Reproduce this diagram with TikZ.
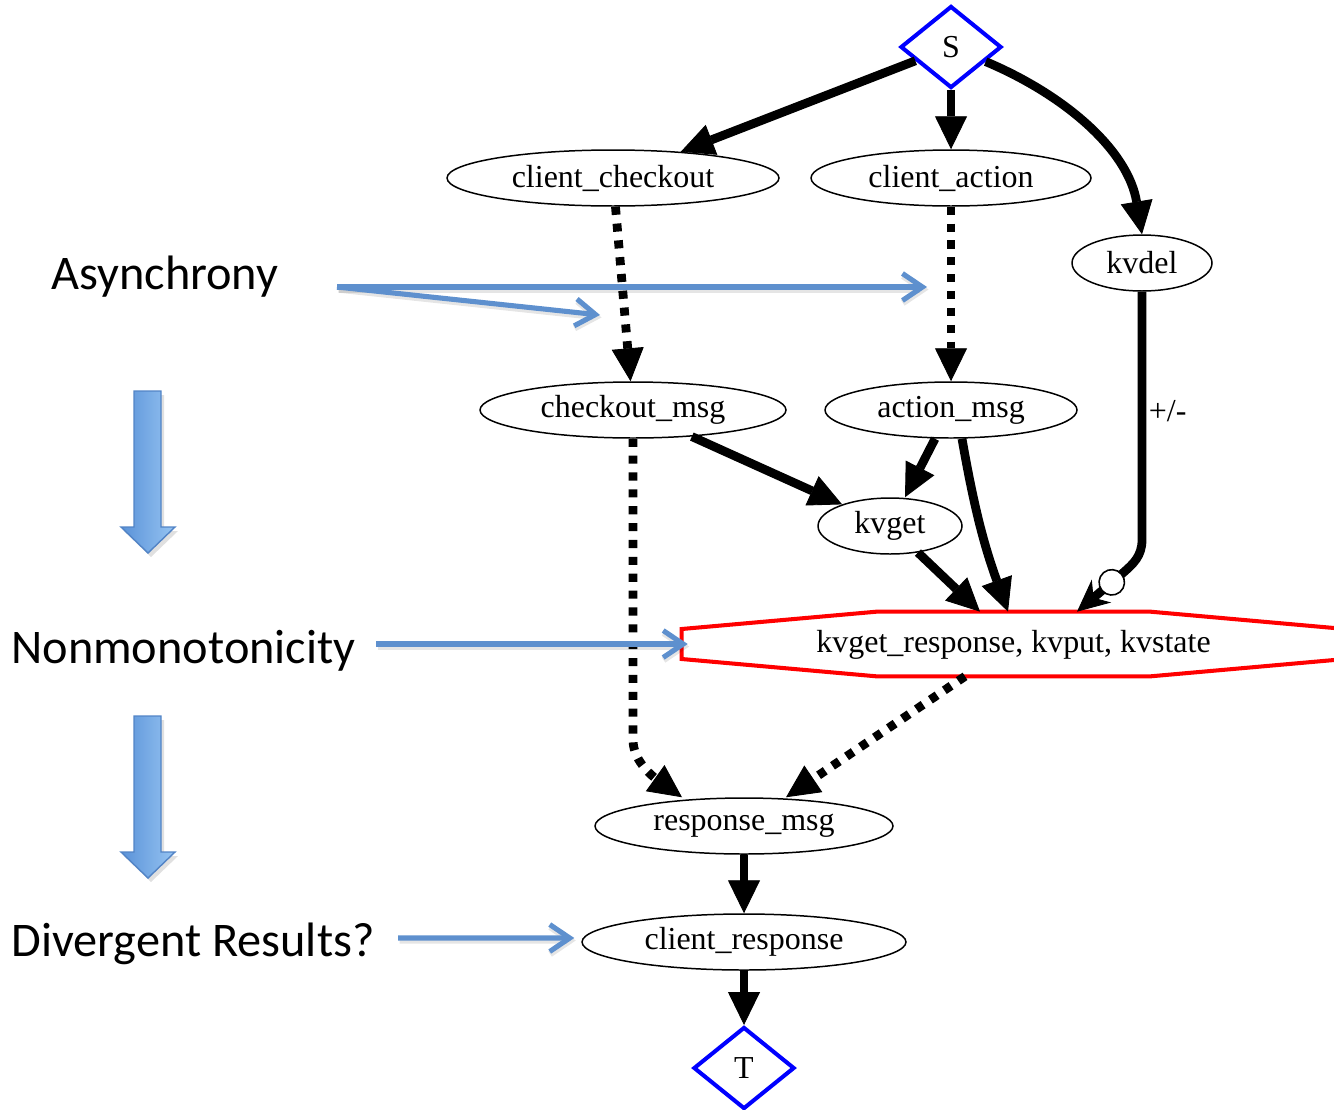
\documentclass[tikz,border=0pt]{standalone}
\usepackage{fontspec}
\setmainfont{Liberation Serif}
\newfontfamily\labelfont{Carlito}
\usetikzlibrary{shapes.geometric,arrows.meta,calc}

\definecolor{termblue}{RGB}{0,0,255}
\definecolor{stratred}{RGB}{255,0,0}
\definecolor{noteblue}{RGB}{94,144,206}
\definecolor{blockdark}{RGB}{90,146,216}
\definecolor{blocklight}{RGB}{150,196,242}
\definecolor{blockedge}{RGB}{82,132,198}

\tikzset{
  every node/.style={font=\fontsize{18.2}{22}\selectfont},
  ell/.style={ellipse, draw, line width=0.85pt, inner sep=0pt, minimum height=1.12cm},
  term/.style={diamond, draw=termblue, line width=2.3pt, inner sep=0pt,
               minimum width=2.02cm, minimum height=1.64cm},
  flow/.style={line width=5pt, -{Triangle[length=0.66cm, width=0.64cm, line width=0.5pt]}},
  asyncflow/.style={flow, dash pattern=on 4.6pt off 5pt},
  negflow/.style={line width=5pt,
    -{Circle[length=0.54cm, width=0.54cm, fill=white, line width=0.9pt]
      Stealth[length=0.64cm, width=0.6cm, line width=0.5pt]}},
  note/.style={draw=noteblue, line width=2.9pt,
    -{Straight Barb[length=0.4cm, width=0.54cm, line width=2.9pt]}},
  noteshadow/.style={draw=black, opacity=0.1, line width=3.6pt,
    -{Straight Barb[length=0.4cm, width=0.54cm, line width=3.6pt]},
    transform canvas={shift={(0.03cm,-0.05cm)}}},
  notelabel/.style={font=\labelfont\fontsize{27.5}{32}\selectfont, anchor=base west, inner sep=0pt},
}

\begin{document}
\begin{tikzpicture}[x=0.02cm, y=-0.02cm]
\useasboundingbox (0,0) rectangle (1334,1109);

% ---- dataflow graph nodes ----
\node[term] (S) at (951,47) {S};
\node[ell, minimum width=6.64cm] (cc) at (613,178) {client\_checkout};
\node[ell, minimum width=5.6cm] (ca) at (951,178) {client\_action};
\node[ell, minimum width=2.8cm] (kvdel) at (1142,263) {kvdel};
\node[ell, minimum width=6.12cm] (cm) at (633,410) {checkout\_msg};
\node[ell, minimum width=5.04cm] (am) at (951,410) {action\_msg};
\node[ell, minimum width=2.88cm] (kvget) at (890,526) {kvget};
\node[inner sep=0pt, minimum width=13.26cm, minimum height=1.28cm,
      text height=13pt, text depth=3pt] (oct) at (1013.5,644)
  {kvget\_response, kvput, kvstate};
\node[ell, minimum width=5.96cm] (rm) at (744,826) {response\_msg};
\node[ell, minimum width=6.48cm] (cr) at (744,942) {client\_response};
\node[term] (T) at (744,1068) {T};

% octagonal stratum outline around the nonmonotonic component
\draw[stratred, line width=2.3pt, line join=miter]
  ($(oct.west)+(0,-15)$) -- ($(oct.north west)+(195,0)$) -- ($(oct.north east)+(-195,0)$)
  -- ($(oct.east)+(0,-15)$) -- ($(oct.east)+(0,15)$) -- ($(oct.south east)+(-195,0)$)
  -- ($(oct.south west)+(195,0)$) -- ($(oct.west)+(0,15)$) -- cycle;

% ---- dataflow edges ----
\draw[flow] (S) -- (cc);
\draw[flow] (S) -- (ca);
\draw[flow] (S) .. controls (1065,95) and (1128,150) .. (kvdel.north);
\draw[asyncflow] (cc) -- (cm);
\draw[asyncflow] (ca) -- (am);
\draw[flow] (cm) -- (kvget);
\draw[flow] ([xshift=-0.32cm]am.south) -- ([xshift=0.3cm]kvget.north);
\draw[flow] ([xshift=0.22cm]am.south) to[bend right=5] ([xshift=-0.11cm]oct.north);
\draw[flow] (kvget) -- ([xshift=-0.67cm]oct.north);
\draw[negflow] (kvdel.south) -- node[pos=0.48, anchor=west, inner sep=0pt, xshift=0.05cm] {+/-}
  (1142,540) .. controls (1142,556) and (1133,564) .. (1124,572) -- ([xshift=1.27cm]oct.north);
\draw[asyncflow] (cm.south) -- (633,740) .. controls (633,762) and (655,778)
  .. ([xshift=-1.24cm]rm.north);
\draw[asyncflow] ([xshift=-0.97cm]oct.south) -- ([xshift=0.84cm]rm.north);
\draw[flow] (rm) -- (cr);
\draw[flow] (cr) -- (T);

% ---- annotations on the left ----
\node[notelabel] (lasync) at (51,289) {Asynchrony};
\node[notelabel] (lnonmono) at (11,663) {Nonmonotonicity};
\node[notelabel] (ldiverge) at (11,956) {Divergent Results?};

\coordinate (asyncsrc) at (337,287);
\coordinate (asyncleft) at (600,315);
\coordinate (asyncright) at (927,287);
\coordinate (nonmonosrc) at (376,644);
\coordinate (divergesrc) at (398,938);

\draw[noteshadow] (asyncsrc) -- (asyncright);
\draw[noteshadow] (asyncsrc) -- (asyncleft);
\draw[noteshadow] (nonmonosrc) -- ([xshift=0.12cm]oct.west);
\draw[noteshadow] (divergesrc) -- ([xshift=-0.14cm,yshift=0.08cm]cr.west);
\draw[note] (asyncsrc) -- (asyncright);
\draw[note] (asyncsrc) -- (asyncleft);
\draw[note] (nonmonosrc) -- ([xshift=0.12cm]oct.west);
\draw[note] (divergesrc) -- ([xshift=-0.14cm,yshift=0.08cm]cr.west);

% block arrows leading from one problem to the next
\foreach \dy in {0,325} {
  \begin{scope}[shift={(0,\dy)}]
    \fill[black, opacity=0.12] (137,395) -- (164,395) -- (164,531) -- (178,531)
      -- (151,557) -- (124,531) -- (137,531) -- cycle;
    \shadedraw[left color=blockdark, right color=blocklight, draw=blockedge, line width=0.8pt]
      (134,391) -- (161,391) -- (161,527) -- (175,527) -- (148,553) -- (121,527)
      -- (134,527) -- cycle;
  \end{scope}
}
\end{tikzpicture}
\end{document}
